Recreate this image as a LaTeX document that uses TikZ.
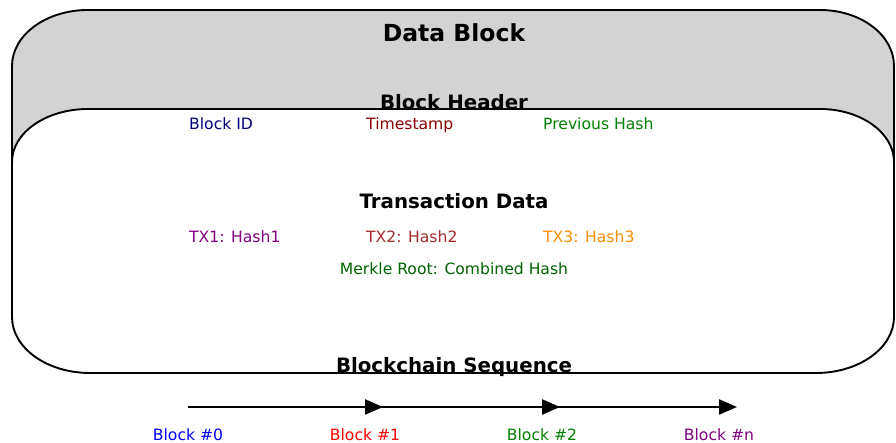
\documentclass[tikz,border=0pt]{standalone}
\usepackage{fontspec}
\setmainfont{DejaVu Sans}
\usetikzlibrary{arrows.meta}
\definecolor{blockgray}{HTML}{D3D3D3}
\definecolor{cnavy}{HTML}{000080}
\definecolor{cdarkred}{HTML}{8B0000}
\definecolor{cgreen}{HTML}{008000}
\definecolor{cdarkgreen}{HTML}{006400}
\definecolor{cpurple}{HTML}{800080}
\definecolor{cbrown}{HTML}{A52A2A}
\definecolor{corange}{HTML}{FF8C00}
\definecolor{cblue}{HTML}{0000FF}
\definecolor{cred}{HTML}{FF0000}

\begin{document}
\begin{tikzpicture}[x=1pt,y=1pt,>={Triangle[length=18pt,width=15pt]}]
\tikzset{
  box/.style={line width=1.9pt},
  big/.style={font=\fontsize{23.5}{28}\selectfont\bfseries, anchor=base, inner sep=0pt},
  ttl/.style={font=\fontsize{19.8}{24}\selectfont\bfseries, anchor=base, inner sep=0pt},
  txt/.style={font=\fontsize{15.6}{18}\selectfont, anchor=base west, inner sep=0pt},
  blk/.style={font=\fontsize{15.6}{18}\selectfont, anchor=base, inner sep=0pt},
  lnk/.style={->, line width=2.3pt}
}
\useasboundingbox (0,0) rectangle (896,443);
% ---------- data block (gray) ----------
\draw[box, fill=blockgray] (12,150) -- (12,377)
  arc[start angle=180, end angle=90, x radius=76pt, y radius=56pt] -- (820,433)
  arc[start angle=90, end angle=0, x radius=74pt, y radius=56pt] -- (894,150) -- cycle;
\node[big] (data) at (454,401) {Data Block};
\node[ttl] (hdr) at (454,333) {Block Header};
% ---------- transaction box (white) ----------
\draw[box, fill=white] (12,126) -- (12,281)
  arc[start angle=180, end angle=90, x radius=76pt, y radius=53pt] -- (820,334)
  arc[start angle=90, end angle=0, x radius=74pt, y radius=53pt] -- (894,126)
  arc[start angle=0, end angle=-90, x radius=78pt, y radius=56pt] -- (90,70)
  arc[start angle=270, end angle=180, x radius=78pt, y radius=56pt] -- cycle;
\node[txt, text=cnavy] (bid) at (189,313) {Block ID};
\node[txt, text=cdarkred] (tstamp) at (366,313) {Timestamp};
\node[txt, text=cgreen] (prev) at (543,313) {Previous Hash};
\node[ttl] (tdata) at (454,234) {Transaction Data};
\node[txt, text=cpurple] (tx1) at (189,200) {TX1: Hash1};
\node[txt, text=cbrown] (tx2) at (366,200) {TX2: Hash2};
\node[txt, text=corange] (tx3) at (543,200) {TX3: Hash3};
\node[blk, text=cdarkgreen] (merkle) at (454,168) {Merkle Root: Combined Hash};
% ---------- chain ----------
\node[ttl] (seq) at (454,70) {Blockchain Sequence};
\foreach \i/\x in {0/188,1/365,2/542,3/719}
  \coordinate (p\i) at (\x,36);
\node[blk, text=cblue] (b0) at (188,2) {Block \#0};
\node[blk, text=cred] (b1) at (365,2) {Block \#1};
\node[blk, text=cgreen] (b2) at (542,2) {Block \#2};
\node[blk, text=cpurple] (bn) at (719,2) {Block \#n};
\draw[lnk] (p0) -- ([xshift=18pt]p1);
\draw[lnk] (p1) -- ([xshift=18pt]p2);
\draw[lnk] (p2) -- ([xshift=18pt]p3);
\end{tikzpicture}
\end{document}
